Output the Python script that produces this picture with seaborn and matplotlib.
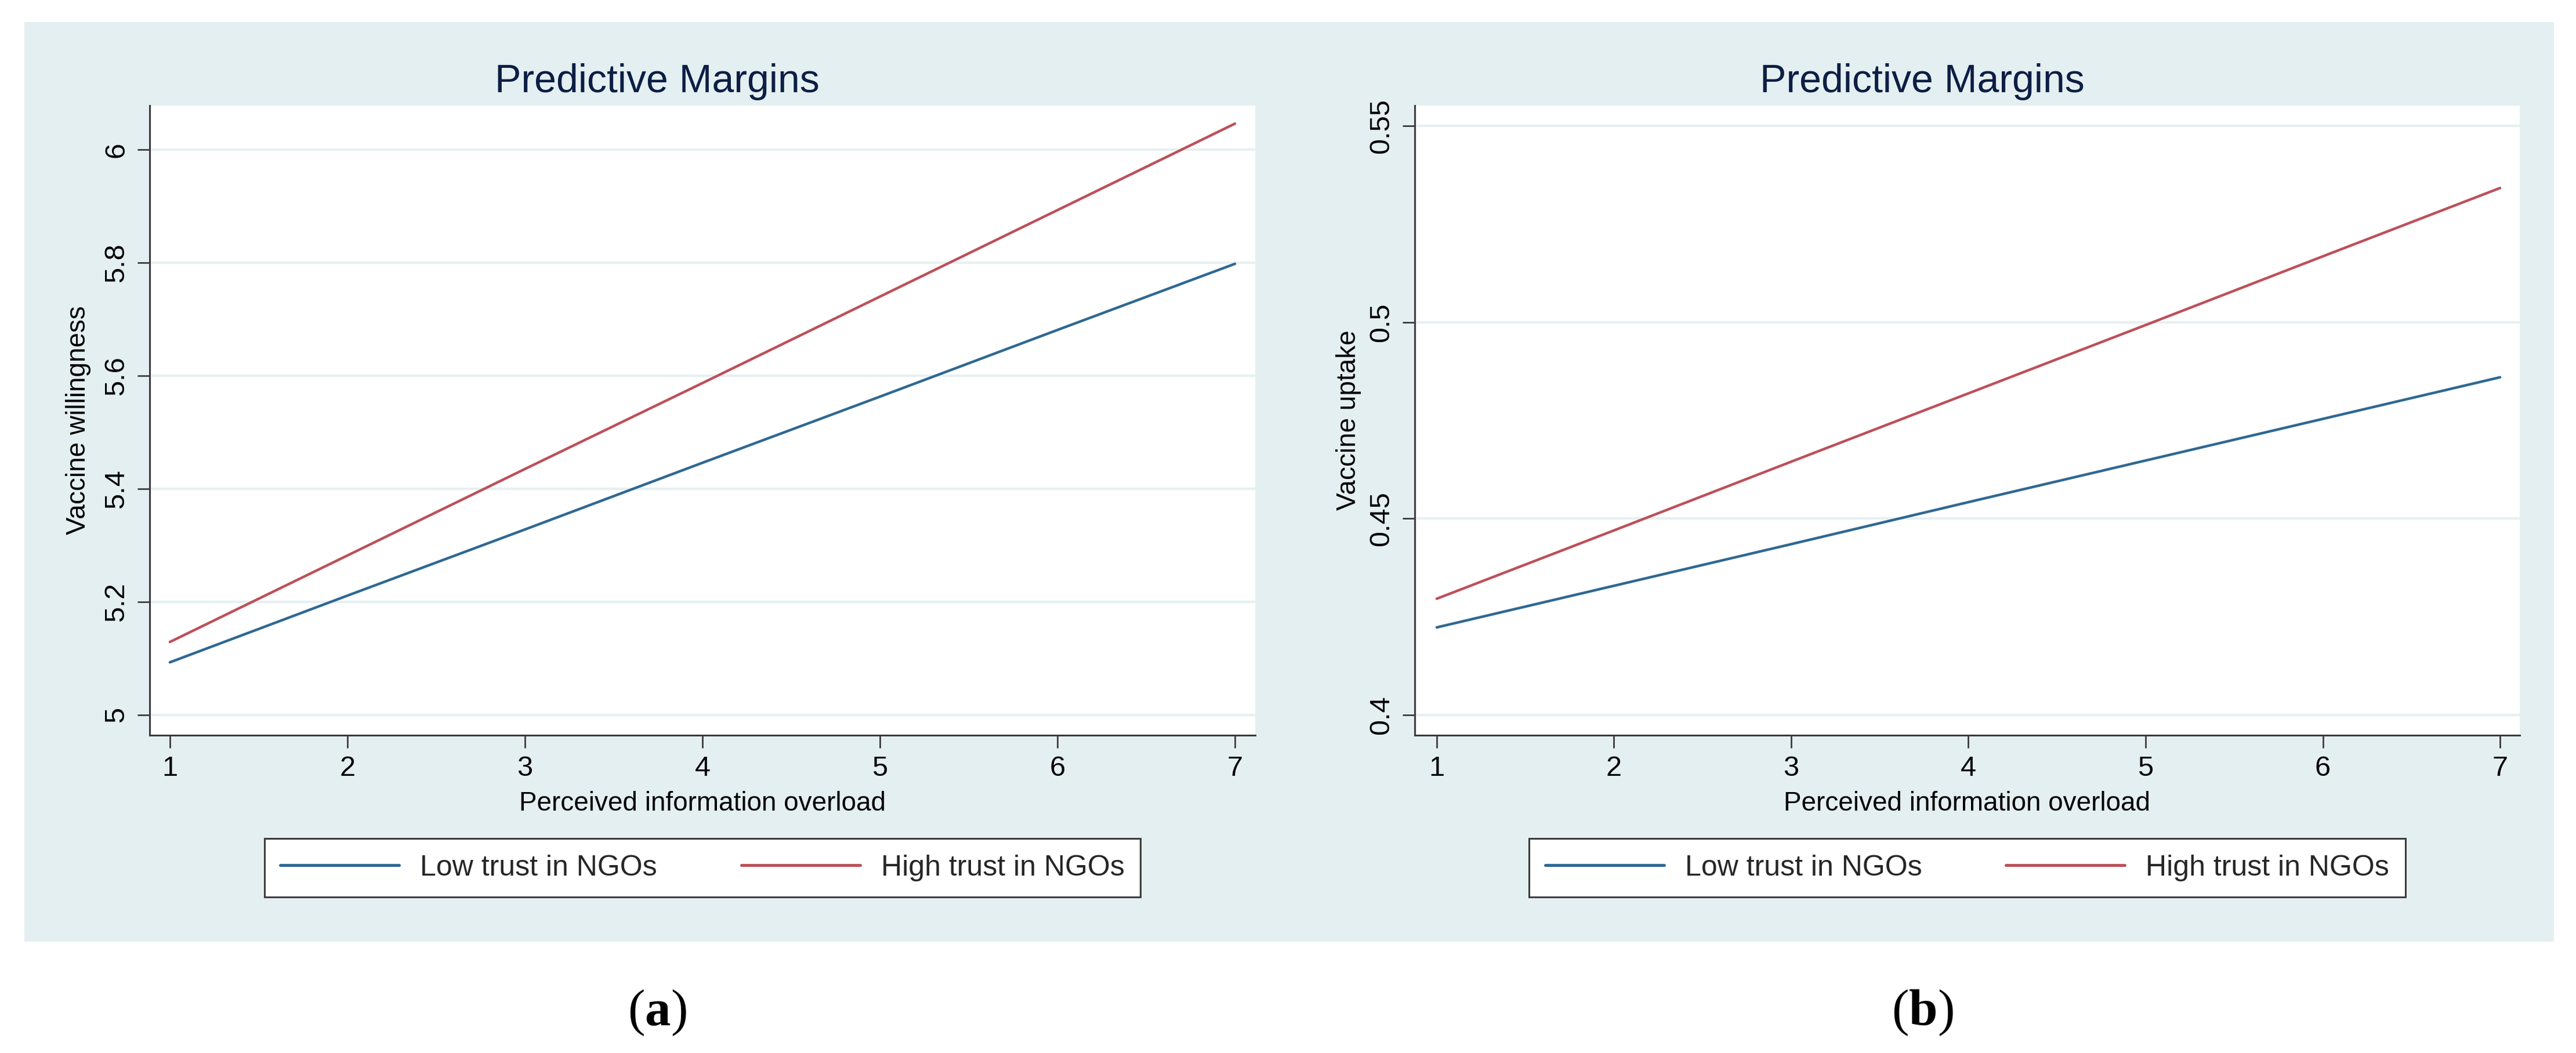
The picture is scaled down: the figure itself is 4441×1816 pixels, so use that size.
import numpy as np
import pandas as pd
import seaborn as sns
import matplotlib.pyplot as plt
from matplotlib.patches import Rectangle
from matplotlib.lines import Line2D

# values
overload = [1, 2, 3, 4, 5, 6, 7]
groups = ['Low trust in NGOs', 'High trust in NGOs']

willingness_low = [5.093, 5.211, 5.328, 5.446, 5.563, 5.681, 5.798]
willingness_high = [5.129, 5.282, 5.435, 5.587, 5.740, 5.893, 6.046]
uptake_low = [0.4223, 0.4329, 0.4435, 0.4542, 0.4648, 0.4754, 0.4860]
uptake_high = [0.4296, 0.4470, 0.4645, 0.4819, 0.4993, 0.5168, 0.5342]

willingness_ticks = [5, 5.2, 5.4, 5.6, 5.8, 6]
willingness_labels = ['5', '5.2', '5.4', '5.6', '5.8', '6']
uptake_ticks = [0.4, 0.45, 0.5, 0.55]
uptake_labels = ['0.4', '0.45', '0.5', '0.55']

sns.set_theme(style='white')
plt.rcParams['font.family'] = ['Liberation Sans', 'DejaVu Sans']
plt.rcParams['mathtext.fontset'] = 'custom'
plt.rcParams['mathtext.rm'] = 'Liberation Serif'
plt.rcParams['mathtext.bf'] = 'Liberation Serif:bold'

blue = '#2F6893'
red = '#BC5059'
bg = '#E4EFF1'
grid_c = '#E6F0F2'
axis_c = '#3C3C3C'
title_c = '#0D1E45'

W, H = 4441, 1816
fig = plt.figure(figsize=(W / 100, H / 100), dpi=100)
fig.patch.set_facecolor('white')

# graph regions (pixel boxes converted to figure fractions)
for x0, x1 in [(42, 2225), (2225, 4403)]:
    fig.add_artist(Rectangle((x0 / W, (H - 1624) / H), (x1 - x0) / W, (1624 - 38) / H,
                             transform=fig.transFigure, facecolor=bg, edgecolor='none', zorder=-1))

panels = [
    dict(box=(258, 2164), low=willingness_low, high=willingness_high, ylim=(4.964, 6.078),
         xlim=(0.886, 7.114), ticks=willingness_ticks, labels=willingness_labels,
         ylabel='Vaccine willingness', ylab_x=157, tag='a', center=1133),
    dict(box=(2439, 4344), low=uptake_low, high=uptake_high, ylim=(0.39484, 0.5552),
         xlim=(0.876, 7.111), ticks=uptake_ticks, labels=uptake_labels,
         ylabel='Vaccine uptake', ylab_x=2347, tag='b', center=3314),
]

top, bottom = 182, 1268
for p in panels:
    left, right = p['box']
    ax = fig.add_axes([left / W, (H - bottom) / H, (right - left) / W, (bottom - top) / H])
    ax.set_facecolor('white')

    df = pd.DataFrame({
        'overload': overload * 2,
        'margin': p['low'] + p['high'],
        'group': [groups[0]] * len(overload) + [groups[1]] * len(overload),
    })
    sns.lineplot(data=df, x='overload', y='margin', hue='group', hue_order=groups,
                 palette=[blue, red], linewidth=3.2, errorbar=None, legend=False, ax=ax)

    ax.set_xlim(*p['xlim'])
    ax.set_ylim(*p['ylim'])
    ax.set_xticks(overload)
    ax.set_xticklabels([str(v) for v in overload])
    ax.set_yticks(p['ticks'])
    ax.set_yticklabels(p['labels'])
    ax.set_axisbelow(True)
    ax.yaxis.grid(True, color=grid_c, linewidth=3)
    ax.xaxis.grid(False)

    for side in ['top', 'right']:
        ax.spines[side].set_visible(False)
    for side in ['left', 'bottom']:
        ax.spines[side].set_color(axis_c)
        ax.spines[side].set_linewidth(2.2)

    ax.tick_params(axis='x', direction='out', length=16, width=2, color=axis_c,
                   labelsize=35, pad=9, bottom=True, labelcolor='black')
    ax.tick_params(axis='y', direction='out', length=15, width=2, color=axis_c,
                   labelsize=35, pad=10, left=True, labelcolor='black')
    plt.setp(ax.get_yticklabels(), rotation=90, va='center')

    ax.set_xlabel('Perceived information overload', fontsize=33, color='black')
    ax.xaxis.set_label_coords(0.5, (bottom - 1364) / (bottom - top))
    ax.set_ylabel(p['ylabel'], fontsize=33, color='black')
    ax.yaxis.set_label_coords((p['ylab_x'] - left) / (right - left), 0.5)

    handles = [Line2D([], [], color=c, linewidth=3.6) for c in [blue, red]]
    leg = ax.legend(handles, groups, loc='center',
                    bbox_to_anchor=(0.5, (bottom - 1496.5) / (bottom - top)),
                    ncol=2, fontsize=36, handlelength=4.1, handletextpad=0.72,
                    columnspacing=2.9, borderpad=0.55, fancybox=False,
                    framealpha=1, facecolor='white', edgecolor=axis_c)
    leg.get_frame().set_linewidth(2.2)

    fig.text(p['center'] / W, (H - 159) / H, 'Predictive Margins', ha='center',
             va='baseline', fontsize=49, color=title_c)
    fig.text(p['center'] / W, (H - 1768) / H, '($\\mathbf{' + p['tag'] + '}$)',
             ha='center', va='baseline', fontsize=64, color='black',
             family=['Liberation Serif', 'DejaVu Serif'])

fig.savefig('out.png', dpi=100, facecolor='white')
